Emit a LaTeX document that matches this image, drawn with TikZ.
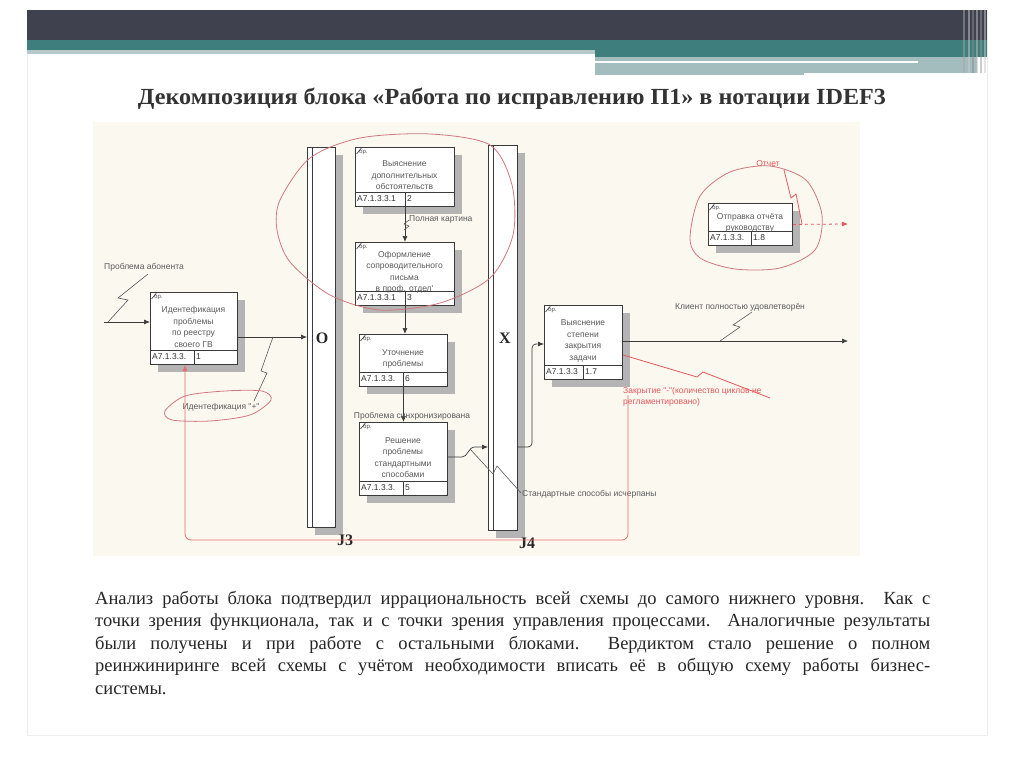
\documentclass[tikz,border=0pt]{standalone}
\usepackage{fontspec}
\setmainfont{Liberation Serif}
\newfontfamily\arialf{Liberation Sans}
\usetikzlibrary{arrows.meta}
\definecolor{darkbar}{HTML}{40414F}
\definecolor{tealbar}{HTML}{3E7F7D}
\definecolor{lightbar}{HTML}{A3BCBE}
\definecolor{paper}{HTML}{FBF8F0}
\definecolor{shadowc}{HTML}{B4B4B4}
\definecolor{linec}{HTML}{3A3A3A}
\definecolor{txtc}{HTML}{5A5A5A}
\definecolor{redc}{HTML}{E0393E}
\definecolor{pinkc}{HTML}{D0787C}
\tikzset{
 boxline/.style={draw=linec, line width=0.9pt},
 uowtxt/.style={font=\arialf\fontsize{8.5}{11.5}\selectfont, text=txtc, align=center, inner sep=0},
 idtxt/.style={font=\arialf\fontsize{8.5}{10}\selectfont, text=black!80, inner sep=0},
 brtxt/.style={font=\arialf\fontsize{6}{6}\selectfont, text=black!70, inner sep=0},
 lbl/.style={font=\arialf\fontsize{8.5}{10}\selectfont, text=txtc, inner sep=0},
 redlbl/.style={font=\arialf\fontsize{8.5}{11.5}\selectfont, text=redc!85, inner sep=0},
 conn/.style={draw=linec, line width=0.7pt},
 arr/.style={-{Latex[length=6pt,width=5pt]}},
 squig/.style={draw=txtc, line width=0.6pt},
 jlbl/.style={font=\fontsize{16}{16}\selectfont\bfseries, text=black!85, inner sep=0},
 redconn/.style={draw=redc!85, line width=0.8pt},
 hand/.style={draw=pinkc, line width=0.8pt},
}
\newcommand{\uow}[9]{%
 \fill[shadowc] (#2+8,#3+8) rectangle (#4+8,#5+8);
 \pgfmathsetmacro\uowW{#4-#2}\pgfmathsetmacro\uowH{#5-#3}
 \node[boxline, fill=white, minimum width=\uowW pt, minimum height=\uowH pt, inner sep=0, anchor=north west] (#1) at (#2,#3) {};
 \draw[boxline] (#2,#5-14) -- (#4,#5-14);
 \draw[boxline] (#6,#5-14) -- (#6,#5);
 \node[uowtxt] (#1-t) at ({(#2+#4)/2},{(#3+#5-14)/2+6}) {#7};
 \node[idtxt, anchor=west] (#1-id) at (#2+2,#5-7) {#8};
 \node[idtxt, anchor=west] (#1-n) at (#6+2,#5-7) {#9};
 \node[brtxt, anchor=north west] (#1-br) at (#2+4,#3+2) {бр.};
 \draw[linec, line width=0.6pt] (#2+1.5,#3+7) -- (#2+6,#3+1.5);
}
\begin{document}
\begin{tikzpicture}[x=1pt,y=-1pt]
\useasboundingbox (0,0) rectangle (1024,767);
\fill[white] (0,0) rectangle (1024,767);
% slide frame
\draw[black!7, line width=0.8pt] (27,10) rectangle (987,735);
% top bars
\fill[darkbar] (27,10) rectangle (987,40);
\fill[tealbar] (27,40) rectangle (987,50);
\fill[tealbar] (595,50) rectangle (987,57);
\fill[lightbar!80] (27,50) rectangle (595,54);
\fill[lightbar] (595,57) rectangle (977,73);
\fill[lightbar] (595,73) rectangle (804,75);
\fill[white] (595,61) rectangle (918,63.5);
\foreach \xx/\cc in {963/black!35,968/black!20,972/black!45,976/black!25,980/black!40,984/black!20}
  \fill[\cc, opacity=0.5] (\xx,10) rectangle (\xx+2,73);
% title
\node[anchor=base, inner sep=0, text=black!80] (title) at (512,105)
  {\resizebox{748pt}{16.5pt}{\bfseries Декомпозиция блока «Работа по исправлению П1» в нотации IDEF3}};
% diagram paper
\fill[paper] (93,122) rectangle (860,556);
% junctions
\fill[shadowc] (315,155) rectangle (343,535);
\node[boxline, fill=white, minimum width=28pt, minimum height=380pt, inner sep=0, anchor=north west] (j3) at (307,147) {};
\draw[boxline] (312,147) -- (312,527);
\node[jlbl] (j3-o) at (322,338) {O};
\node[jlbl] (j3-l) at (345,540) {J3};
\fill[shadowc] (496,153) rectangle (525,538);
\node[boxline, fill=white, minimum width=29pt, minimum height=385pt, inner sep=0, anchor=north west] (j4) at (488,145) {};
\draw[boxline] (493,145) -- (493,530);
\node[jlbl] (j4-x) at (505,338) {X};
\node[jlbl] (j4-l) at (527,543) {J4};
% boxes
\uow{b1}{150}{292}{237}{364}{194}{Идентефикация\\проблемы\\по реестру\\своего ГВ}{A7.1.3.3.}{1}
\uow{b2}{355}{147}{454}{206}{405}{Выяснение\\дополнительных\\обстоятельств}{A7.1.3.3.1}{2}
\uow{b3}{355}{242}{454}{305}{405}{Оформление\\сопроводительного\\письма\\в проф. отдел'}{A7.1.3.3.1}{3}
\uow{b4}{359}{334}{447}{386}{403}{Уточнение\\проблемы}{A7.1.3.3.}{6}
\uow{b5}{359}{422}{447}{495}{403}{Решение\\проблемы\\стандартными\\способами}{A7.1.3.3.}{5}
\uow{b7}{544}{305}{622}{379}{583}{Выяснение\\степени\\закрытия\\задачи}{A7.1.3.3}{1.7}
\uow{b8}{708}{203}{792}{245}{751}{Отправка отчёта\\руководству}{A7.1.3.3.}{1.8}
% coordinates
\coordinate (in1) at (104,322);
\coordinate (y1) at (0,337);
\coordinate (y5) at (0,457);
\coordinate (y4in) at (0,447);
\coordinate (y7) at (0,344);
\coordinate (out7) at (848,341);
\coordinate (out8) at (848,224);
\coordinate (r185) at (185,0);
\coordinate (rs) at (628,395);
% box 1 input
\draw[conn,arr] (in1) -- (b1.west |- in1);
\node[lbl, anchor=west] (l-in1) at (104,267) {Проблема абонента};
\draw[squig] (148,274) -- (118,298) -- (128,300) -- (108,322);
% box1 -> J3
\draw[conn,arr] (b1.east |- y1) -- (j3.west |- y1);
\node[lbl] (l-id) at (221,407) {Идентефикация "+"};
\draw[squig] (273,337) -- (261,371) -- (267,373) -- (254,401);
\draw[hand] plot[smooth cycle] coordinates {(165,411) (185,396) (225,391) (262,391) (271,400) (250,415) (210,421) (172,420)};
% b2 -> b3
\draw[conn,arr] (b2.south) -- (b3.north);
\node[lbl, anchor=west] (l-pk) at (409,219) {Полная картина};
\draw[squig] (404,230) -- (409,226) -- (404,224) -- (409,220);
% b3 -> b4
\draw[conn,arr] (b3.south) -- (b3.south |- b4.north);
% b4 -> b5
\draw[conn,arr] (b4.south) -- (b5.north);
\node[lbl] (l-sync) at (412,416) {Проблема синхронизирована};
% b5 -> J4
\draw[conn,arr] (b5.east |- y5) -- (462,457) .. controls (468,457) and (468,447) .. (475,447) -- (j4.west |- y4in);
\node[lbl, anchor=west] (l-std) at (522,494) {Стандартные способы исчерпаны};
\draw[squig] (470,449) -- (493,474) -- (497,466) -- (521,493);
% J4 -> b7
\draw[conn,arr,rounded corners=4pt] (j4.east |- y4in) -- (532,447) -- (532,344) -- (b7.west |- y7);
% b7 -> out
\draw[conn,arr] (b7.east |- out7) -- (out7);
\node[lbl, anchor=west] (l-kl) at (675,307) {Клиент полностью удовлетворён};
\draw[squig] (752,312) -- (733,325) -- (740,327) -- (720,341);
% red closure
\draw[redconn] (623,355) -- (697,377) -- (703,372) -- (770,398);
\node[redlbl, anchor=north west, align=left] (l-zak) at (623,387) {Закрытие "-"(количество циклов не\\регламентировано)};
\draw[redconn, draw=redc!75, arr, rounded corners=6pt] (rs) -- (628,540) -- (185,540) -- (b1.south -| r185);
% b8 output
\draw[redconn, dashed, arr] (b8.east) -- (out8);
\node[redlbl] (l-otch) at (768,164) {Отчет};
\draw[redconn] (784,170) -- (791,198) -- (796,194) -- (802,224);
% hand-drawn loops
\draw[hand] plot[smooth cycle] coordinates {(690,238) (700,196) (730,172) (770,166) (806,180) (822,215) (815,250) (780,268) (735,269) (700,258)};
\draw[hand] plot[smooth cycle] coordinates {(280,200) (310,158) (360,138) (430,134) (490,145) (512,185) (513,235) (490,278) (440,303) (380,310) (330,295) (290,262) (277,230)};
% paragraph
\node[anchor=north west, inner sep=0, text=black!85, font=\fontsize{18.5}{22.5}\selectfont] (para) at (95,591) {\vbox{%
\hbox to 835pt{Анализ работы блока подтвердил иррациональность всей схемы до самого нижнего уровня. Как с}%
\hbox to 835pt{точки зрения функционала, так и с точки зрения управления процессами.\ \ Аналогичные результаты}%
\hbox to 835pt{были получены и при работе с остальными блоками.\ \ Вердиктом стало решение о полном}%
\hbox to 835pt{реинжиниринге всей схемы с учётом необходимости вписать её в общую схему работы бизнес-}%
\hbox{системы.}}};
\end{tikzpicture}
\end{document}
